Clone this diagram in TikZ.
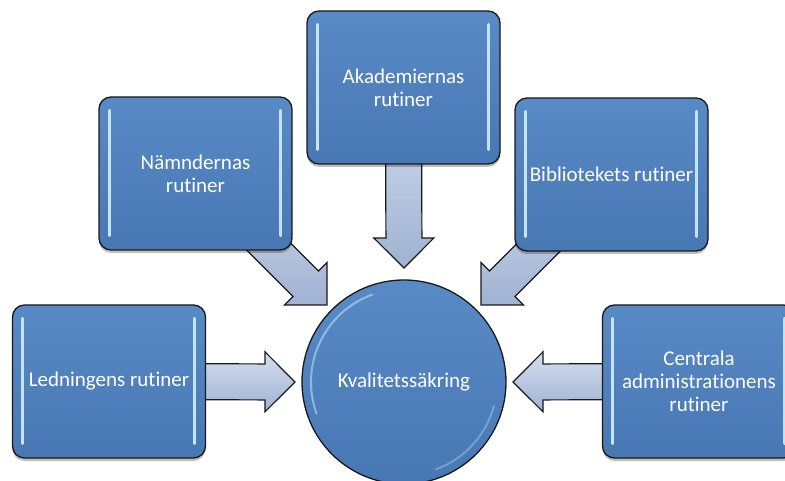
\documentclass[tikz,border=0pt]{standalone}
\usepackage{fontspec}
\setmainfont{Carlito}[Ligatures={NoCommon}]
\usetikzlibrary{calc,shadows}
\definecolor{boxtop}{RGB}{88,138,198}
\definecolor{boxbot}{RGB}{72,120,180}
\definecolor{arrtop}{RGB}{212,222,240}
\definecolor{arrbot}{RGB}{160,178,210}
\definecolor{edge}{RGB}{25,25,25}
\definecolor{gloss}{RGB}{195,228,250}
\pgfdeclarelayer{bg}
\pgfsetlayers{bg,main}
\tikzset{
  routine/.style={draw=edge, line width=1.3pt, rounded corners=12pt,
    top color=boxtop, bottom color=boxbot,
    minimum width=193pt, minimum height=153pt, inner sep=1pt,
    text=white, align=center, font=\fontsize{21}{23}\selectfont,
    drop shadow={shadow xshift=0pt, shadow yshift=-3pt, opacity=.25, fill=black}},
  hub/.style={circle, draw=edge, line width=1.3pt,
    top color=boxtop, bottom color=boxbot, minimum size=204pt,
    text=white, font=\fontsize{21}{23}\selectfont},
  blockarrow/.style={draw=edge, line width=1.2pt, line join=miter,
    top color=arrtop, bottom color=arrbot},
  gloss/.style={draw=gloss, line width=2.8pt, line cap=round}
}
\newcommand\flowarrow[2]{%
  \coordinate (hb) at ($(#2)!30pt!(#1.center)$);
  \draw[blockarrow] ($(#1.center)!18pt!90:(#2)$) -- ($(hb)!18pt!90:(#2)$)
    -- ($(hb)!30pt!90:(#2)$) -- (#2) -- ($(hb)!30pt!-90:(#2)$)
    -- ($(hb)!18pt!-90:(#2)$) -- ($(#1.center)!18pt!-90:(#2)$) -- cycle;}
\newcommand\glossstrips[1]{%
  \draw[gloss] ($(#1.north west)+(11,14)$) -- ($(#1.south west)+(11,-15)$);
  \draw[gloss] ($(#1.north east)+(-12,14)$) -- ($(#1.south east)+(-12,-15)$);}
\begin{document}
\begin{tikzpicture}[x=1pt,y=-1pt]
\clip (0,0) rectangle (785,481);
\node[hub] (K) at (404,382) {Kvalitetssäkring};
\node[routine] (A) at (403.5,87.5) {Akademiernas\\rutiner};
\node[routine] (N) at (195.5,173.5) {Nämndernas\\rutiner};
\node[routine] (B) at (611.5,174.5) {Bibliotekets rutiner};
\node[routine] (L) at (109,381.5) {Ledningens rutiner};
\node[routine] (C) at (699,381.5) {Centrala\\administrationens\\rutiner};
\foreach \n in {A,N,B,L,C}{\glossstrips{\n}}
\draw[gloss, opacity=.55, line width=2pt] ($(K.center)+(160:93)$) arc (160:250:93);
\draw[gloss, opacity=.35, line width=2pt] ($(K.center)+(15:93)$) arc (15:70:93);
\coordinate (tA) at (404,268);
\coordinate (tN) at (327,305);
\coordinate (tB) at (481,305);
\coordinate (tL) at (295,382);
\coordinate (tC) at (513,382);
\begin{pgfonlayer}{bg}
\flowarrow{A}{tA}
\flowarrow{N}{tN}
\flowarrow{B}{tB}
\flowarrow{L}{tL}
\flowarrow{C}{tC}
\end{pgfonlayer}
\end{tikzpicture}
\end{document}
